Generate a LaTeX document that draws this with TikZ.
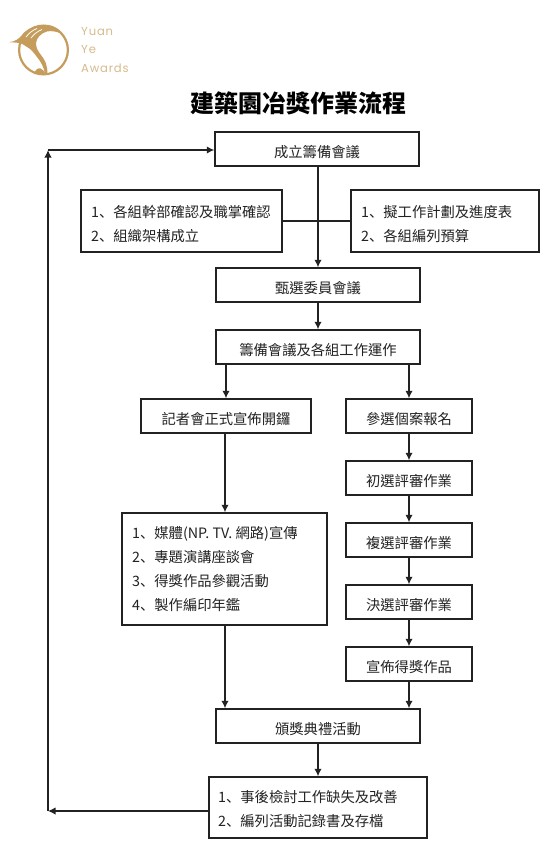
\documentclass[tikz,border=0pt]{standalone}
\usepackage{fontspec}
\setmainfont{Noto Sans CJK TC}
\newfontfamily\jpf{Noto Sans CJK JP}
\newfontfamily\logof[LetterSpace=7]{Poppins}
\newcommand{\dun}{{\jpf 、}}
\usetikzlibrary{arrows.meta}
\definecolor{ink}{HTML}{222222}
\definecolor{gold}{HTML}{C59C5B}
\definecolor{goldtext}{HTML}{D6BA8C}
\tikzset{
  flowbox/.style={draw=ink,line width=1.4pt,fill=white,inner sep=0pt,text=ink,text height=16.6pt,text depth=0pt,font=\fontsize{14.3}{17}\selectfont},
  blankbox/.style={draw=ink,line width=1.4pt,fill=white,inner sep=0pt},
  listtext/.style={anchor=west,inner sep=0pt,align=left,text=ink,font=\fontsize{14.3}{24}\selectfont},
  flow/.style={draw=ink,line width=1.6pt,-{Latex[length=7.5pt,width=7.5pt]}},
  plainline/.style={draw=ink,line width=1.1pt},
  logotext/.style={anchor=west,inner sep=0pt,text=goldtext,font=\logof\fontsize{11.6}{13}\selectfont},
}
\begin{document}
\begin{tikzpicture}[x=1pt,y=-1pt]
\useasboundingbox (0,0) rectangle (550,851);
% logo
\draw[gold,line width=2.2pt] (43.5,50) circle (24.4);
\fill[gold] (9.3,42.2) .. controls (15,41.5) and (19,39) .. (22,35)
  .. controls (26,29) and (36,25) .. (47,25)
  .. controls (54,25.5) and (59,29) .. (62.5,34)
  .. controls (57,31.5) and (51,30.5) .. (47,31.5)
  .. controls (41,33) and (36.5,38) .. (36,43)
  .. controls (36,48) and (38,51) .. (41,55)
  .. controls (45,60) and (47.5,65) .. (47.5,74)
  -- (45,74)
  .. controls (44,67) and (41,62) .. (37,57)
  .. controls (34,53) and (31,49) .. (27,47)
  .. controls (24,45) and (22,43.5) .. (19.5,43)
  .. controls (16,42.5) and (13,42.4) .. (9.3,42.2) -- cycle;
\fill[gold] (34,74) .. controls (35,70) and (38,67.5) .. (40.5,68.5) .. controls (43,69.5) and (44,71) .. (46,74.5) -- cycle;
\draw[white,line width=0.8pt] (26,37) .. controls (29,33) and (33,30) .. (37,28.5);
\draw[white,line width=0.8pt] (31,38) .. controls (34,34) and (38,31) .. (42,29.5);
\node[logotext] (yuan) at (81,32) {Yuan};
\node[logotext] (ye) at (81,50) {Ye};
\node[logotext] (awards) at (81,68) {Awards};
% title
\node[inner sep=0pt,text=black,font=\fontsize{24}{28}\selectfont\bfseries] (title) at (298,103) {建築園冶獎作業流程};
% boxes
\node[flowbox,minimum width=204,minimum height=34] (open) at (317,149) {成立籌備會議};
\node[blankbox,minimum width=201,minimum height=62] (lbox) at (181.5,221) {};
\node[blankbox,minimum width=188,minimum height=62] (rbox) at (445,221) {};
\node[flowbox,minimum width=204,minimum height=34] (select) at (318,285) {甄選委員會議};
\node[flowbox,minimum width=204,minimum height=34] (prep) at (318,347) {籌備會議及各組工作運作};
\node[flowbox,minimum width=170,minimum height=34] (press) at (226,416) {記者會正式宣佈開鑼};
\node[flowbox,minimum width=126,minimum height=34] (entry) at (409,416) {參選個案報名};
\node[flowbox,minimum width=126,minimum height=34] (first) at (409,478) {初選評審作業};
\node[flowbox,minimum width=126,minimum height=34] (second) at (409,540) {複選評審作業};
\node[flowbox,minimum width=126,minimum height=34] (final) at (409,602) {決選評審作業};
\node[flowbox,minimum width=126,minimum height=34] (announce) at (409,664) {宣佈得獎作品};
\node[blankbox,minimum width=205,minimum height=112] (media) at (224.5,569) {};
\node[flowbox,minimum width=204,minimum height=34] (award) at (318,726) {頒獎典禮活動};
\node[blankbox,minimum width=218,minimum height=61] (fin) at (318,807.5) {};
% list texts
\node[listtext] (ltext) at (91,224) {1\dun 各組幹部確認及職掌確認\\2\dun 組織架構成立};
\node[listtext] (rtext) at (361,224) {1\dun 擬工作計劃及進度表\\2\dun 各組編列預算};
\node[listtext] (mtext) at (132,569) {1\dun 媒體(NP. TV. 網路)宣傳\\2\dun 專題演講座談會\\3\dun 得獎作品參觀活動\\4\dun 製作編印年鑑};
\node[listtext] (ftext) at (218,809.5) {1\dun 事後檢討工作缺失及改善\\2\dun 編列活動記錄書及存檔};
% loop corners and the media box's arrow column
\coordinate (tl) at (48,150);
\coordinate (bl) at (48,811);
\coordinate (mx) at (225,569);
% connectors
\draw[plainline] (lbox.east) -- (rbox.west);
\draw[flow] (select.north |- open.south) -- (select.north);
\draw[flow] (select.south) -- (prep.north);
\draw[flow] (press.north |- prep.south) -- (press.north);
\draw[flow] (entry.north |- prep.south) -- (entry.north);
\draw[flow] (entry.south) -- (first.north);
\draw[flow] (first.south) -- (second.north);
\draw[flow] (second.south) -- (final.north);
\draw[flow] (final.south) -- (announce.north);
\draw[flow] (press.south -| mx) -- (mx |- media.north);
\draw[flow] (mx |- media.south) -- (mx |- award.north);
\draw[flow] (announce.south) -- (announce.south |- award.north);
\draw[flow] (award.south) -- (fin.north);
\draw[flow] (bl -| fin.west) -- (bl);
\draw[flow] (bl) -- (tl);
\draw[flow] (tl) -- (tl -| open.west);
\end{tikzpicture}
\end{document}
